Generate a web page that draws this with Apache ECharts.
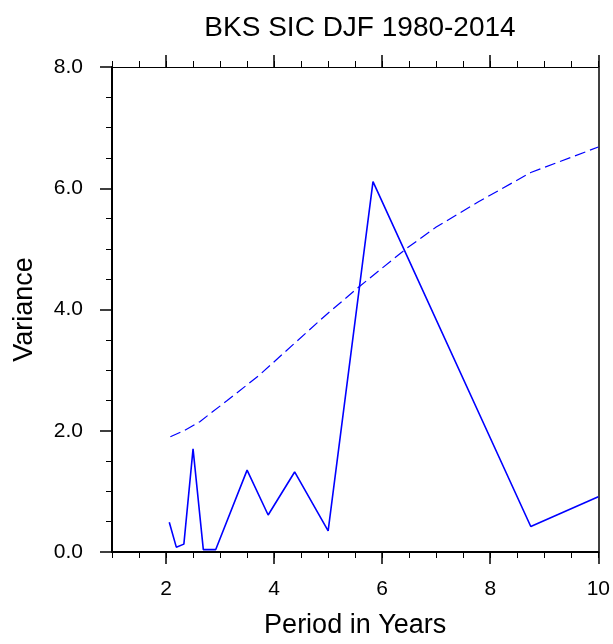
<!DOCTYPE html>
<html>
<head>
<meta charset="utf-8">
<title>BKS SIC DJF 1980-2014</title>
<script src="https://cdn.jsdelivr.net/npm/echarts@6/dist/echarts.min.js"></script>
<style>
  html, body { margin: 0; padding: 0; background: #fff; }
  #chart { width: 613px; height: 644px; }
</style>
</head>
<body>
<div id="chart"></div>
<script>
// spectrum (solid) : period in years vs variance
var periods = [2.06, 2.19, 2.33, 2.5, 2.69, 2.92, 3.5, 3.89, 4.38, 5.0, 5.83, 8.75, 10];
var variance = [0.49, 0.08, 0.13, 1.70, 0.04, 0.04, 1.35, 0.61, 1.32, 0.35, 6.11, 0.42, 0.91];

// significance curve (dashed)
var sigPeriods = [2.08, 2.33, 2.625, 3.12, 3.73, 4.35, 4.96, 5.58, 6.44, 7.0, 7.79, 8.75, 10];
var sigVariance = [1.90, 2.00, 2.15, 2.49, 2.92, 3.42, 3.91, 4.38, 5.0, 5.36, 5.78, 6.26, 6.68];

// tick values
var xMajor = [2, 4, 6, 8, 10];
var xMinor = [1, 1.5, 2, 2.5, 3, 3.5, 4, 4.5, 5, 5.5, 6, 6.5, 7, 7.5, 8, 8.5, 9, 9.5, 10];

var font = "'Liberation Sans', Arial, Helvetica, sans-serif";

function pairs(xs, ys) {
  return xs.map(function (x, i) { return [x, ys[i]]; });
}

var chart = echarts.init(document.getElementById('chart'), null, { renderer: 'canvas' });

var option = {
  backgroundColor: '#fff',
  animation: false,
  title: {
    text: 'BKS SIC DJF 1980-2014',
    left: 355,
    top: 9,
    textAlign: 'center',
    textStyle: { fontFamily: font, fontSize: 28, fontWeight: 'normal', color: '#000' }
  },
  grid: { left: 112, right: 14, top: 67, bottom: 89, containLabel: false },
  xAxis: [
    {
      // main bottom axis with labels and long ticks
      type: 'value', min: 1, max: 10, position: 'bottom',
      name: 'Period in Years', nameLocation: 'middle', nameGap: 60,
      nameTextStyle: { fontFamily: font, fontSize: 27, color: '#000' },
      axisLine: { show: true, lineStyle: { color: '#000', width: 2 } },
      axisTick: { show: true, inside: false, length: 12, customValues: xMajor, lineStyle: { color: '#000', width: 1.5 } },
      axisLabel: { show: true, customValues: xMajor, margin: 27, fontFamily: font, fontSize: 21, color: '#000' },
      splitLine: { show: false }
    },
    {
      // bottom minor ticks
      type: 'value', min: 1, max: 10, position: 'bottom',
      axisLine: { show: false },
      axisTick: { show: true, inside: false, length: 6, customValues: xMinor, lineStyle: { color: '#000', width: 1 } },
      axisLabel: { show: false },
      splitLine: { show: false }
    },
    {
      // top frame with long ticks
      type: 'value', min: 1, max: 10, position: 'top',
      axisLine: { show: true, lineStyle: { color: '#000', width: 1 } },
      axisTick: { show: true, inside: false, length: 12, customValues: xMajor, lineStyle: { color: '#000', width: 1.5 } },
      axisLabel: { show: false },
      splitLine: { show: false }
    },
    {
      // top minor ticks
      type: 'value', min: 1, max: 10, position: 'top',
      axisLine: { show: false },
      axisTick: { show: true, inside: false, length: 6, customValues: xMinor, lineStyle: { color: '#000', width: 1 } },
      axisLabel: { show: false },
      splitLine: { show: false }
    }
  ],
  yAxis: [
    {
      type: 'value', min: 0, max: 8, interval: 2, position: 'left',
      name: 'Variance', nameLocation: 'middle', nameGap: 74, nameRotate: 90,
      nameTextStyle: { fontFamily: font, fontSize: 27, color: '#000' },
      axisLine: { show: true, lineStyle: { color: '#000', width: 2 } },
      axisTick: { show: true, inside: false, length: 12, lineStyle: { color: '#000', width: 1.5 } },
      minorTick: { show: true, splitNumber: 4, length: 6, lineStyle: { color: '#000', width: 1 } },
      axisLabel: {
        margin: 29, fontFamily: font, fontSize: 21, color: '#000',
        formatter: function (v) { return v.toFixed(1); }
      },
      splitLine: { show: false }
    },
    {
      // right frame
      type: 'value', min: 0, max: 8, interval: 2, position: 'right',
      axisLine: { show: true, lineStyle: { color: '#000', width: 1.5 } },
      axisTick: { show: false },
      axisLabel: { show: false },
      splitLine: { show: false }
    }
  ],
  series: [
    {
      name: 'spectrum',
      type: 'line',
      xAxisIndex: 0, yAxisIndex: 0,
      data: pairs(periods, variance),
      showSymbol: false,
      symbol: 'none',
      clip: true,
      lineStyle: { color: '#0000ff', width: 1.6 }
    },
    {
      name: 'significance',
      type: 'line',
      xAxisIndex: 0, yAxisIndex: 0,
      data: pairs(sigPeriods, sigVariance),
      showSymbol: false,
      symbol: 'none',
      smooth: false,
      clip: true,
      lineStyle: { color: '#0000ff', width: 1.2, type: [11, 5] }
    }
  ]
};

chart.setOption(option);
</script>
</body>
</html>
